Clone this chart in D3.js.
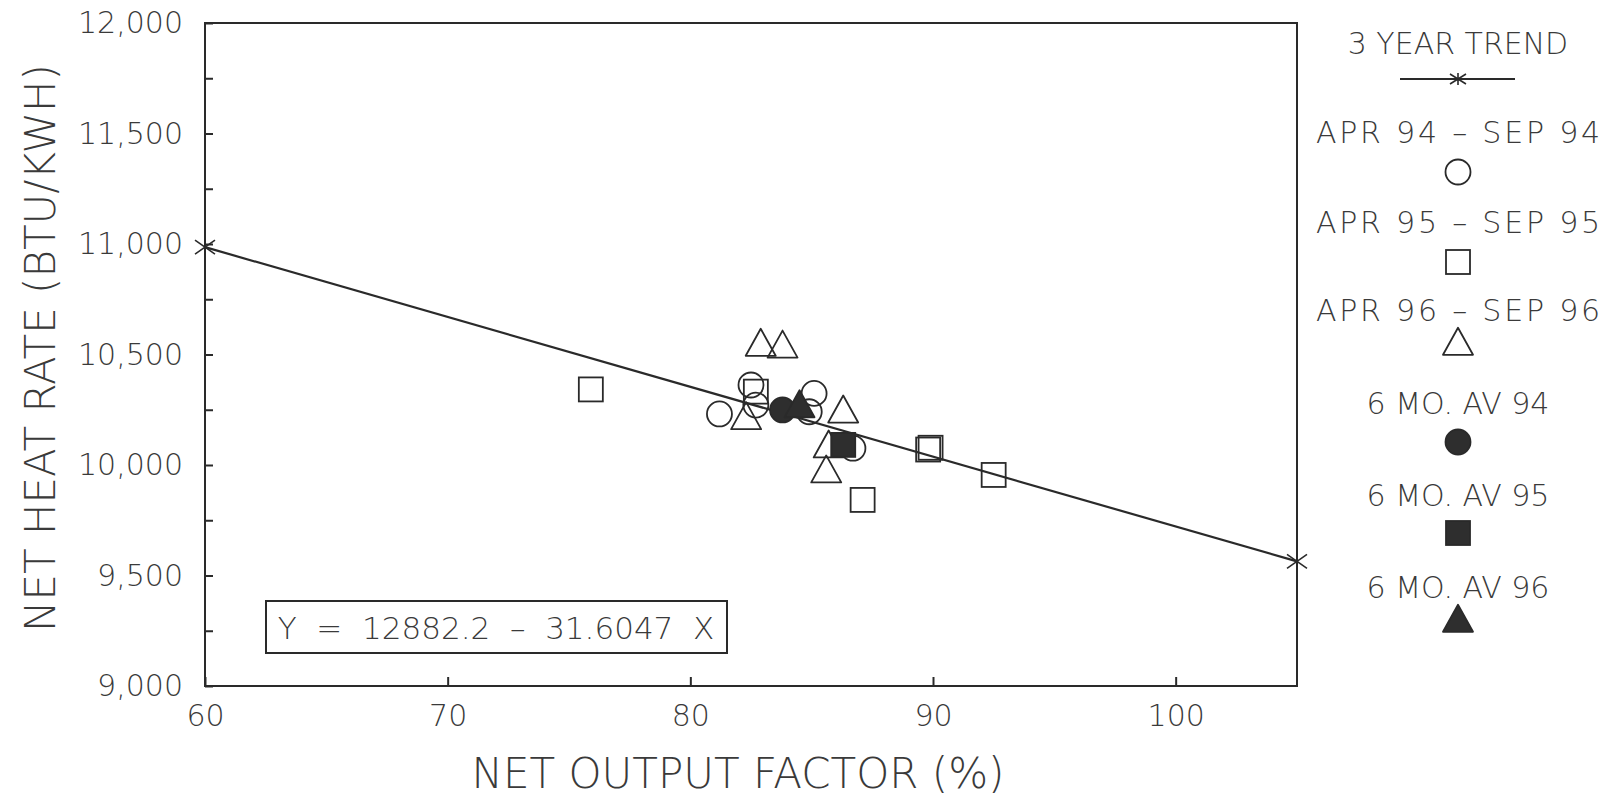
<!DOCTYPE html>
<html>
<head>
<meta charset="utf-8">
<script src="https://cdn.jsdelivr.net/npm/d3@7"></script>
<style>
  html, body { margin: 0; padding: 0; background: #fff; }
  svg { display: block; }
  text { font-family: "DejaVu Sans", sans-serif; font-weight: 200; fill: #3a3a3a; }
</style>
</head>
<body>
<svg id="chart" width="1620" height="798"></svg>
<script>
// ---------------- data ----------------
const xTickValues = [60, 70, 80, 90, 100];
const yTickValues = [9000, 9500, 10000, 10500, 11000, 11500, 12000];
const yMinorTicks = [9250, 9750, 10250, 10750, 11250, 11750];

// Apr 94 - Sep 94 (open circles)
const apr94x = [81.2, 82.5, 82.7, 85.1, 84.9, 86.7];
const apr94y = [10231, 10362, 10271, 10324, 10241, 10076];
// Apr 95 - Sep 95 (open squares)
const apr95x = [75.9, 82.7, 87.1, 89.8, 89.9, 92.5];
const apr95y = [10342, 10332, 9842, 10070, 10078, 9955];
// Apr 96 - Sep 96 (open triangles)
const apr96x = [82.9, 83.8, 82.3, 86.3, 85.7, 85.6];
const apr96y = [10543, 10535, 10211, 10241, 10083, 9970];
// 6 month averages
const avg94 = [83.8, 10249];
const avg95 = [86.3, 10091];
const avg96 = [84.5, 10265];

// 3 year trend: Y = 12882.2 - 31.6047 X
const trendIntercept = 12882.2;
const trendSlope = -31.6047;
const trendX = [60, 105];

const legendLabels = ["3 YEAR TREND", "APR 94 – SEP 94", "APR 95 – SEP 95", "APR 96 – SEP 96",
                      "6 MO. AV 94", "6 MO. AV 95", "6 MO. AV 96"];
const legendSpacing = [0, 2.8, 2.8, 2.8, 0, 0, 0];
const equationText = "Y  =  12882.2  –  31.6047  X";
const xTitle = "NET OUTPUT FACTOR (%)";
const yTitle = "NET HEAT RATE (BTU/KWH)";

// ---------------- drawing ----------------
const ink = "#2a2a2a";
const svg = d3.select("#chart");
const x = d3.scaleLinear().domain([60, 105]).range([205, 1297]);
const y = d3.scaleLinear().domain([9000, 12000]).range([686, 23]);

// frame
svg.append("rect")
  .attr("x", x(60)).attr("y", y(12000))
  .attr("width", x(105) - x(60)).attr("height", y(9000) - y(12000))
  .attr("fill", "none").attr("stroke", ink).attr("stroke-width", 2);

// y axis
const yAxis = svg.append("g").attr("transform", `translate(${x(60)},0)`)
  .call(d3.axisLeft(y).tickValues(yTickValues).tickSize(-8).tickPadding(22)
        .tickFormat(d3.format(",")));
const yMinor = svg.append("g").attr("transform", `translate(${x(60)},0)`)
  .call(d3.axisLeft(y).tickValues(yMinorTicks).tickSize(-8).tickFormat(""));
// x axis
const xAxis = svg.append("g").attr("transform", `translate(0,${y(9000)})`)
  .call(d3.axisBottom(x).tickValues(xTickValues).tickSize(-9).tickPadding(19));

[yAxis, yMinor, xAxis].forEach(g => {
  g.select(".domain").remove();
  g.selectAll("line").attr("stroke", ink).attr("stroke-width", 2);
  g.selectAll("text").attr("font-size", 30).attr("fill", "#3a3a3a")
    .style("font-family", "'DejaVu Sans', sans-serif").style("font-weight", 200);
});

// axis titles
svg.append("text").attr("x", 738).attr("y", 773).attr("dy", "0.36em")
  .attr("text-anchor", "middle").attr("font-size", 42).text(xTitle);
svg.append("text").attr("transform", "translate(40,348) rotate(-90)").attr("dy", "0.36em")
  .attr("text-anchor", "middle").attr("font-size", 42).text(yTitle);

// trend line
const trendData = trendX.map(v => [v, trendIntercept + trendSlope * v]);
svg.append("path")
  .attr("d", d3.line().x(d => x(d[0])).y(d => y(d[1]))(trendData))
  .attr("fill", "none").attr("stroke", ink).attr("stroke-width", 2.2);

function asterisk(g, cx, cy, w, h) {
  g.append("path")
    .attr("d", `M${cx - w},${cy - h}L${cx + w},${cy + h}M${cx - w},${cy + h}L${cx + w},${cy - h}M${cx},${cy - h - 1}L${cx},${cy + h + 1}`)
    .attr("stroke", ink).attr("stroke-width", 1.6).attr("fill", "none");
}
trendData.forEach(d => asterisk(svg, x(d[0]), y(d[1]), 10, 7));

// equation box
svg.append("rect").attr("x", 266).attr("y", 601).attr("width", 461).attr("height", 52)
  .attr("fill", "none").attr("stroke", ink).attr("stroke-width", 2);
svg.append("text").attr("x", 496).attr("y", 628).attr("dy", "0.36em")
  .attr("text-anchor", "middle").attr("font-size", 31).style("white-space", "pre")
  .text(equationText);

// marker helpers
function drawCircle(g, cx, cy, filled) {
  g.append("circle").attr("cx", cx).attr("cy", cy).attr("r", 12.5)
    .attr("fill", filled ? "#2e2e2e" : "none").attr("stroke", ink).attr("stroke-width", 1.8);
}
function drawSquare(g, cx, cy, filled) {
  g.append("rect").attr("x", cx - 12).attr("y", cy - 12).attr("width", 24).attr("height", 24)
    .attr("fill", filled ? "#2e2e2e" : "none").attr("stroke", ink).attr("stroke-width", 1.8);
}
function drawTriangle(g, cx, cy, filled) {
  const hw = 15, h = 27;
  g.append("path")
    .attr("d", `M${cx},${cy - h * 0.6}L${cx + hw},${cy + h * 0.4}L${cx - hw},${cy + h * 0.4}Z`)
    .attr("fill", filled ? "#2e2e2e" : "none").attr("stroke", ink).attr("stroke-width", 1.8)
    .attr("stroke-linejoin", "round");
}

const pts = svg.append("g");
apr94x.forEach((v, i) => drawCircle(pts, x(v), y(apr94y[i]), false));
apr95x.forEach((v, i) => drawSquare(pts, x(v), y(apr95y[i]), false));
apr96x.forEach((v, i) => drawTriangle(pts, x(v), y(apr96y[i]), false));
drawCircle(pts, x(avg94[0]), y(avg94[1]), true);
drawSquare(pts, x(avg95[0]), y(avg95[1]), true);
drawTriangle(pts, x(avg96[0]), y(avg96[1]), true);

// legend
const lg = svg.append("g");
const lx = 1458;
const labelY = [43, 132, 222, 310, 403, 495, 587];
const markY = [79, 172, 262, 344, 442, 533, 621];
legendLabels.forEach((t, i) => {
  lg.append("text").attr("x", lx + legendSpacing[i] / 2).attr("y", labelY[i]).attr("dy", "0.36em")
    .attr("text-anchor", "middle").attr("font-size", 30)
    .style("letter-spacing", legendSpacing[i] + "px").text(t);
});
lg.append("line").attr("x1", 1400).attr("x2", 1515).attr("y1", markY[0]).attr("y2", markY[0])
  .attr("stroke", ink).attr("stroke-width", 2);
asterisk(lg, lx, markY[0], 8, 5);
drawCircle(lg, lx, markY[1], false);
drawSquare(lg, lx, markY[2], false);
drawTriangle(lg, lx, markY[3], false);
drawCircle(lg, lx, markY[4], true);
drawSquare(lg, lx, markY[5], true);
drawTriangle(lg, lx, markY[6], true);
</script>
</body>
</html>
